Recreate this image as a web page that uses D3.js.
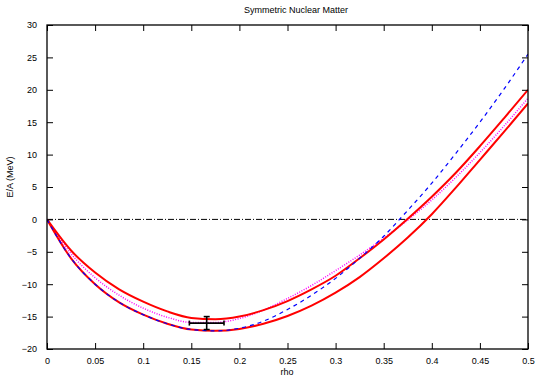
<!DOCTYPE html>
<html><head><meta charset="utf-8">
<script src="https://cdn.jsdelivr.net/npm/d3@7"></script>
<style>body{margin:0;background:#fff}svg{display:block}text{font-family:"Liberation Sans",Arial,sans-serif}</style>
</head><body>
<svg id="c" width="537" height="378"></svg>
<script>
const rho = [0,0.025,0.05,0.075,0.1,0.125,0.15,0.175,0.2,0.225,0.25,0.275,0.3,0.325,0.35,0.375,0.4,0.425,0.45,0.475,0.5];
const upperRed = [0,-4.8,-8.2,-10.8,-12.7,-14.2,-15.2,-15.4,-15.0,-14.0,-12.6,-10.8,-8.7,-6.0,-3.1,0.1,3.5,7.2,11.3,15.6,20.0];
const lowerRed = [0,-6.0,-10.0,-12.8,-14.7,-16.1,-17.0,-17.2,-16.9,-16.1,-14.9,-13.3,-11.3,-8.9,-6.0,-2.8,0.8,4.9,9.2,13.5,17.9];
const magenta = [0,-5.3,-9.0,-11.7,-13.7,-15.1,-15.9,-15.9,-15.3,-14.0,-12.2,-10.2,-7.9,-5.5,-2.9,-0.1,3.0,6.5,10.3,14.4,18.7];
const blue = [0,-6.0,-10.0,-12.8,-14.7,-16.1,-17.0,-17.2,-16.8,-15.7,-13.9,-11.7,-9.1,-6.0,-2.6,1.4,5.6,10.2,15.0,20.1,25.5];
const xTicks = [0,0.05,0.1,0.15,0.2,0.25,0.3,0.35,0.4,0.45,0.5];
const yTicks = [-20,-15,-10,-5,0,5,10,15,20,25,30];
const expPoint = {rho:0.166, E:-16, drho:0.018, dE:1};

const svg = d3.select("#c");
const L=47,R=528,T=25,B=349;
const x = d3.scaleLinear().domain([0,0.5]).range([L,R]);
const y = d3.scaleLinear().domain([-20,30]).range([B,T]);

svg.append("clipPath").attr("id","cp").append("rect").attr("x",L).attr("y",T).attr("width",R-L).attr("height",B-T);

// zero line
svg.append("line").attr("x1",x(0)).attr("x2",x(0.5)).attr("y1",y(0)).attr("y2",y(0))
 .attr("stroke","#000").attr("stroke-width",1).attr("stroke-dasharray","6,2,1,2");

const line = d3.line().x(d=>x(d[0])).y(d=>y(d[1])).curve(d3.curveMonotoneX);
const pts = arr => rho.map((r,i)=>[r,arr[i]]);
const lg = svg.append("g").attr("clip-path","url(#cp)");
lg.append("path").attr("d",line(pts(magenta))).attr("fill","none").attr("stroke","#ff00ff").attr("stroke-width",1.5).attr("stroke-dasharray","1,1.5");
lg.append("path").attr("d",line(pts(upperRed))).attr("fill","none").attr("stroke","#ff0000").attr("stroke-width",2);
lg.append("path").attr("d",line(pts(lowerRed))).attr("fill","none").attr("stroke","#ff0000").attr("stroke-width",2);
lg.append("path").attr("d",line(pts(blue))).attr("fill","none").attr("stroke","#0000ff").attr("stroke-width",1.2).attr("stroke-dasharray","4,4");

// error bar
const eb = svg.append("g").attr("stroke","#000").attr("stroke-width",1.6);
const ex=x(expPoint.rho), ey=y(expPoint.E);
eb.append("line").attr("x1",x(expPoint.rho-expPoint.drho)).attr("x2",x(expPoint.rho+expPoint.drho)).attr("y1",ey).attr("y2",ey);
eb.append("line").attr("x1",ex).attr("x2",ex).attr("y1",y(expPoint.E-expPoint.dE)).attr("y2",y(expPoint.E+expPoint.dE));
[expPoint.rho-expPoint.drho, expPoint.rho+expPoint.drho].forEach(v=>eb.append("line").attr("x1",x(v)).attr("x2",x(v)).attr("y1",ey-2.5).attr("y2",ey+2.5));
[expPoint.E-expPoint.dE, expPoint.E+expPoint.dE].forEach(v=>eb.append("line").attr("x1",ex-3).attr("x2",ex+3).attr("y1",y(v)).attr("y2",y(v)));

// axes
const tk = 6;
const ax = svg.append("g");
ax.append("g").attr("transform",`translate(0,${B})`).call(d3.axisBottom(x).tickValues(xTicks).tickSize(-tk).tickPadding(9).tickFormat(d=>d3.format("")(d)));
ax.append("g").attr("transform",`translate(0,${T})`).call(d3.axisTop(x).tickValues(xTicks).tickSize(-tk).tickFormat(""));
ax.append("g").attr("transform",`translate(${L},0)`).call(d3.axisLeft(y).tickValues(yTicks).tickSize(-tk).tickPadding(10));
ax.append("g").attr("transform",`translate(${R},0)`).call(d3.axisRight(y).tickValues(yTicks).tickSize(-tk).tickFormat(""));
ax.selectAll(".domain").remove();
ax.selectAll(".tick line").attr("stroke","#000").attr("stroke-width",1);
ax.selectAll(".tick text").attr("font-size",9).attr("fill","#000").attr("font-family","Liberation Sans, Arial, sans-serif");
svg.append("rect").attr("x",L).attr("y",T).attr("width",R-L).attr("height",B-T).attr("fill","none").attr("stroke","#000").attr("stroke-width",1.3);

svg.append("text").attr("x",296).attr("y",13).attr("text-anchor","middle").attr("font-size",9).text("Symmetric Nuclear Matter");
svg.append("text").attr("x",287).attr("y",375).attr("text-anchor","middle").attr("font-size",9).text("rho");
svg.append("text").attr("transform","translate(13,177) rotate(-90)").attr("text-anchor","middle").attr("font-size",9).text("E/A (MeV)");
</script>
</body></html>
